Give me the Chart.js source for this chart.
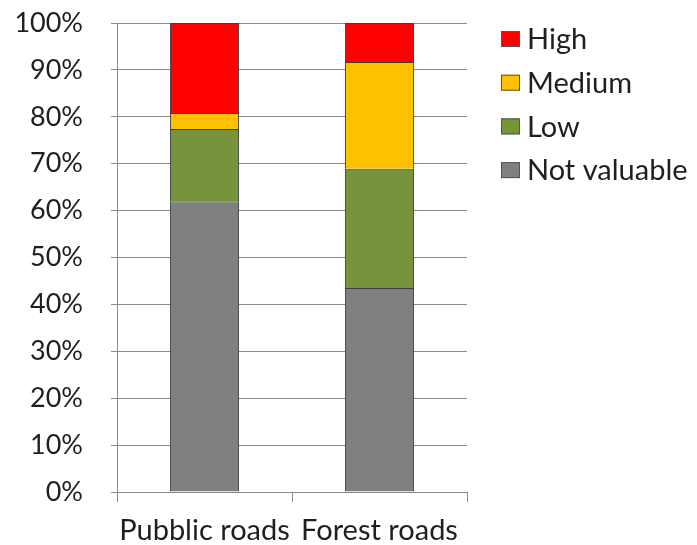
<!doctype html>
<html lang="en">
  <head>
    <meta charset="utf-8">
    <title>Road value classes</title>
    <style>
      * { margin: 0; padding: 0; }
      body { background: white; }
    </style>
  </head>
  <body>
    <canvas id="myChart" width="697" height="545"></canvas>

    <script src="https://cdn.jsdelivr.net/npm/chart.js@4.2.0/dist/chart.umd.min.js"></script>

    <script>
    // data block
    const categories = ['Pubblic roads', 'Forest roads'];
    const notValuable = [62.0, 43.5];
    const low = [15.4, 25.4];
    const medium = [3.4, 22.8];
    const high = [19.2, 8.3];
    const yTicks = [0, 10, 20, 30, 40, 50, 60, 70, 80, 90, 100];

    const fontFamily = 'Lato, "Open Sans", sans-serif';
    const textColor = '#1f1f1f';
    const lineColor = '#8a8a8a';

    const mkSet = (label, values, color) => ({
      label: label,
      data: values,
      backgroundColor: color,
      borderColor: '#3f3f3f',
      borderWidth: 1,
      barPercentage: 0.395,
      categoryPercentage: 1
    });

    const data = {
      labels: categories,
      datasets: [
        mkSet('Not valuable', notValuable, '#808080'),
        mkSet('Low', low, '#77933c'),
        mkSet('Medium', medium, '#ffc000'),
        mkSet('High', high, '#ff0000')
      ]
    };

    // legend drawn at the right, top series first
    const sideLegend = {
      id: 'sideLegend',
      afterDraw: (chart) => {
        const { ctx } = chart;
        const sets = chart.data.datasets.slice().reverse();
        ctx.save();
        ctx.font = '29px ' + fontFamily;
        ctx.textBaseline = 'middle';
        sets.forEach((ds, i) => {
          const cy = 39 + i * 43.7;
          ctx.fillStyle = ds.backgroundColor;
          ctx.fillRect(501, cy - 8, 19, 16);
          ctx.strokeStyle = '#555';
          ctx.lineWidth = 1;
          ctx.strokeRect(501.5, cy - 7.5, 18, 15);
          ctx.fillStyle = textColor;
          ctx.fillText(ds.label, 527, cy + 1);
        });
        ctx.restore();
      }
    };

    // config block
    const config = {
      type: 'bar',
      data: data,
      options: {
        responsive: false,
        animation: false,
        layout: { padding: { top: 23, right: 230, left: 0, bottom: 0 } },
        plugins: {
          legend: { display: false },
          tooltip: { enabled: false }
        },
        scales: {
          x: {
            stacked: true,
            grid: {
              offset: true,
              drawOnChartArea: false,
              color: lineColor,
              tickLength: 10
            },
            border: { color: lineColor },
            ticks: {
              color: textColor,
              font: { family: fontFamily, size: 29 },
              padding: 11,
              maxRotation: 0
            },
            afterFit: (scale) => {
              scale.height = 53;
              scale.paddingLeft = 0;
              scale.paddingRight = 0;
            }
          },
          y: {
            stacked: true,
            min: 0,
            max: 100,
            afterBuildTicks: (scale) => {
              scale.ticks = yTicks.map(v => ({ value: v }));
            },
            grid: {
              color: lineColor,
              tickLength: 6
            },
            border: { color: lineColor },
            ticks: {
              color: textColor,
              font: { family: fontFamily, size: 27 },
              padding: 28,
              callback: (v) => v + '%'
            },
            afterFit: (scale) => {
              scale.width = 117;
              scale.paddingTop = 0;
              scale.paddingBottom = 0;
            }
          }
        }
      },
      plugins: [sideLegend]
    };

    // init render block
    const myChart = new Chart(
      document.getElementById('myChart'),
      config
    );
    </script>
  </body>
</html>
